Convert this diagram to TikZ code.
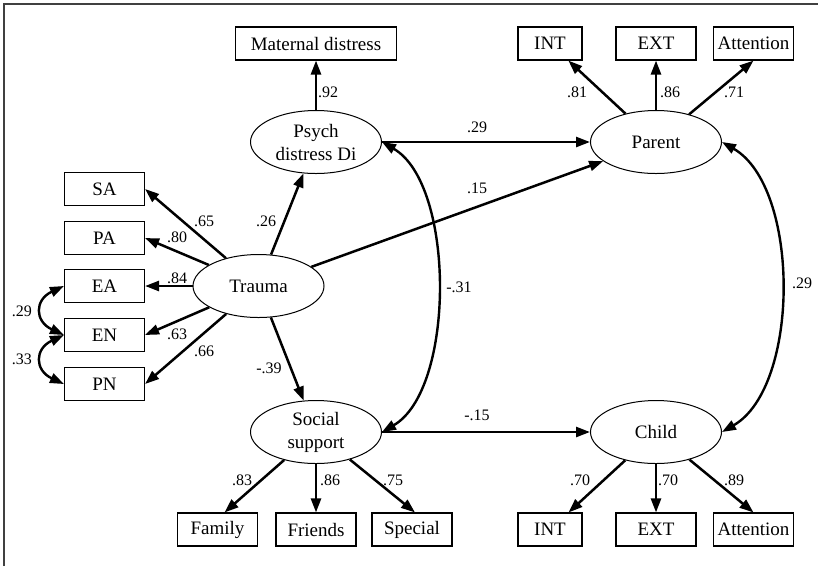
\documentclass[tikz,border=0pt]{standalone}
\usepackage{fontspec}
\setmainfont{Liberation Serif}
\usetikzlibrary{shapes.geometric,arrows.meta}

\tikzset{
  obs/.style={draw,line width=1.1pt,minimum width=80pt,minimum height=33pt,inner sep=0pt,font=\fontsize{19}{23}\selectfont},
  lat/.style={draw,ellipse,line width=1pt,minimum width=131pt,minimum height=63pt,inner sep=0pt,align=center,font=\fontsize{19}{23}\selectfont},
  eff/.style={line width=2.5pt,-{Triangle[length=14pt,width=10pt]}},
  cov/.style={line width=2.4pt,{Triangle[length=14pt,width=10pt]}-{Triangle[length=14pt,width=10pt]}},
  coef/.style={inner sep=0pt,font=\fontsize{16}{18}\selectfont}
}

\begin{document}
\begin{tikzpicture}[x=1pt,y=1pt]
\useasboundingbox (0,0) rectangle (818,-566);
\draw[line width=1.4pt,black!75] (4,-566) -- (4,-4) -- (818,-4);

\node[obs,minimum width=161pt] (md) at (316,-43.5) {Maternal distress};
\node[obs,minimum width=64pt] (pint) at (550,-43.5) {INT};
\node[obs] (pext) at (656,-43.5) {EXT};
\node[obs] (patt) at (753.5,-43.5) {Attention};

\node[lat] (psych) at (316,-142) {Psych\\distress Di};
\node[lat] (parent) at (656,-142) {Parent};
\node[lat] (trauma) at (258.5,-286) {Trauma};
\node[lat] (social) at (316,-432) {Social\\support};
\node[lat] (child) at (656,-432) {Child};

\foreach \n/\y in {SA/189,PA/238,EA/286,EN/335,PN/384}
  \node[obs] (\n) at (104.5,-\y) {\n};

\node[obs] (fam) at (217.5,-529.5) {Family};
\node[obs] (fri) at (316,-529.5) {Friends};
\node[obs] (spe) at (412,-529.5) {Special};
\node[obs,minimum width=64pt] (cint) at (550,-529.5) {INT};
\node[obs] (cext) at (656,-529.5) {EXT};
\node[obs] (catt) at (753.5,-529.5) {Attention};

\draw[eff] (psych) -- (md);
\draw[eff] (parent) -- (pint);
\draw[eff] (parent) -- (pext);
\draw[eff] (parent) -- (patt.south);
\draw[eff] (psych) -- (parent);
\draw[eff] (trauma) -- (parent);
\draw[eff] (trauma) -- (psych);
\draw[eff] (trauma) -- (social);
\foreach \n in {SA,PA,EA,EN,PN}
  \draw[eff] (trauma) -- (\n.east);
\draw[eff] (social) -- (child);
\draw[eff] (social) -- ([xshift=7pt]fam.north);
\draw[eff] (social) -- (fri);
\draw[eff] (social) -- ([xshift=3pt]spe.north);
\draw[eff] (child) -- (cint);
\draw[eff] (child) -- (cext);
\draw[eff] (child) -- (catt.north);

\draw[cov] (psych.east) to[out=-30,in=30,looseness=0.75] (social.east);
\draw[cov] (parent.east) to[out=-30,in=30,looseness=0.8] (child.east);
\draw[cov] (EA.west) to[out=205,in=155,looseness=1.7] (EN.west);
\draw[cov] (EN.west) to[out=205,in=155,looseness=1.7] (PN.west);

\foreach \t/\x/\y [count=\i] in {.92/328/92,.81/577/92,.86/670/92,.71/734/92,
    .29/477/127,.15/477/188,.26/266/221,.65/204/221,.80/177/237,.84/177/278,
    .63/177/334,.66/204/351,-.39/269/368,.29/22/311,.33/22/359,-.31/459/287,
    -.15/477/415,.29/802/283,.83/242/480,.86/330/480,.75/393/480,
    .70/580/480,.70/668/480,.89/734/480}
  \node[coef] (c\i) at (\x,-\y) {\t};
\end{tikzpicture}
\end{document}
